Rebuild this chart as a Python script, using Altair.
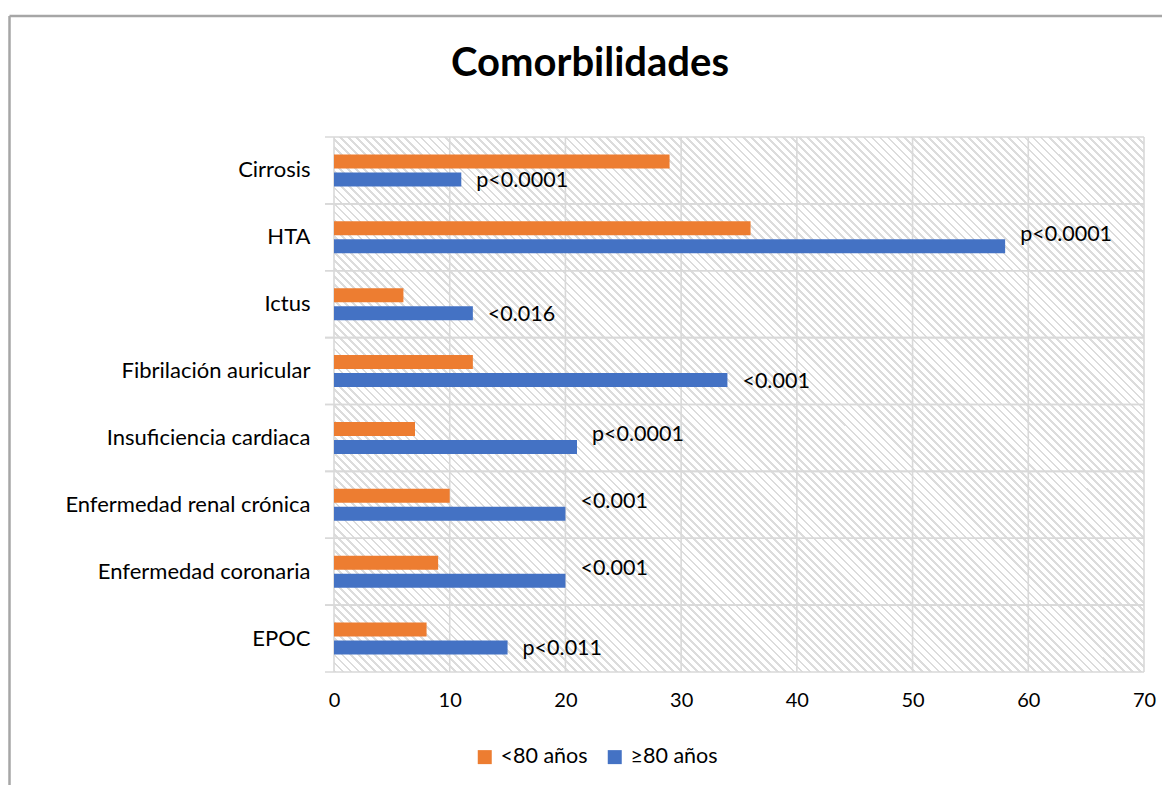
import altair as alt
import pandas as pd

# ---------------- data ----------------
categories = ["Cirrosis", "HTA", "Ictus", "Fibrilación auricular",
              "Insuficiencia cardiaca", "Enfermedad renal crónica",
              "Enfermedad coronaria", "EPOC"]
under80 = [29, 36, 6, 12, 7, 10, 9, 8]
over80 = [11, 58, 12, 34, 21, 20, 20, 15]
p_labels = ["p<0.0001", "p<0.0001", "<0.016", "<0.001", "p<0.0001",
            "<0.001", "<0.001", "p<0.011"]
label_row = ["bar", "mid", "bar", "bar", "mid", "mid", "mid", "bar"]
series = ["<80 años", "≥80 años"]
x_ticks = [0, 10, 20, 30, 40, 50, 60, 70]
title_text = "Comorbilidades"

# ---------------- styles ----------------
FONT = "Lato"
ORANGE = "#ED7D31"
BLUE = "#4472C4"
GRID = "#d9d9d9"
W, H = 810, 535
PAD_L, PAD_T = 334, 137

bars_df = pd.DataFrame({
    "cat": categories * 2,
    "s": [series[0]] * len(categories) + [series[1]] * len(categories),
    "v": under80 + over80,
})
lab_df = pd.DataFrame({"cat": categories, "v": over80, "lab": p_labels, "row": label_row})
cat_df = pd.DataFrame({"cat": categories})
tick_df = pd.DataFrame({"t": x_ticks})
title_df = pd.DataFrame({"t": [title_text]})

# hatch-like background via hard-stop linear gradient (style only)
stops = []
n = 167
per = 1.0 / n
for k in range(n):
    a = k * per
    b = a + per * 0.35
    c = (k + 1) * per
    stops += [alt.GradientStop(offset=a, color="#dcdcdc"),
              alt.GradientStop(offset=min(b, 1.0), color="#dcdcdc"),
              alt.GradientStop(offset=min(b, 1.0), color="#ffffff"),
              alt.GradientStop(offset=min(c, 1.0), color="#ffffff")]
hatch = alt.LinearGradient(gradient="linear", stops=stops,
                           x1=0, y1=1, x2=1.156, y2=0.2364)

x_scale = alt.Scale(domain=[0, 70], nice=False, zero=True)
x_axis = alt.Axis(values=x_ticks, grid=False, domain=False, ticks=False,
                  labelFlush=False, labelPadding=18, labelFontSize=20,
                  labelFont=FONT, labelColor="#000000", title=None)
y_scale = alt.Scale(domain=categories, paddingInner=0, paddingOuter=0)
y_axis = alt.Axis(grid=False, domain=False, ticks=False, labelPadding=24,
                  labelFontSize=22, labelFont=FONT, labelColor="#000000",
                  title=None, labelLimit=400)


def yenc(bp=None):
    if bp is None:
        return alt.Y("cat:N", scale=y_scale, axis=y_axis, title=None)
    return alt.Y("cat:N", scale=y_scale, axis=y_axis, title=None, bandPosition=bp)


background = alt.Chart(title_df).mark_rect(fill=hatch, strokeWidth=0).encode(
    x=alt.value(0), x2=alt.value(W), y=alt.value(0), y2=alt.value(H))

vgrid = alt.Chart(tick_df).mark_rule(color=GRID, strokeWidth=1.6).encode(
    x=alt.X("t:Q", scale=x_scale, axis=x_axis, title=None))

hgrid_top = alt.Chart(cat_df).mark_rule(color=GRID, strokeWidth=1.6).encode(
    y=yenc(0), x=alt.value(-9), x2=alt.value(W))
hgrid_bot = alt.Chart(cat_df).mark_rule(color=GRID, strokeWidth=1.6).encode(
    y=yenc(1), x=alt.value(-9), x2=alt.value(W))

bars = alt.Chart(bars_df).mark_bar().encode(
    x=alt.X("v:Q", scale=x_scale, axis=x_axis, title=None),
    y=yenc(),
    yOffset=alt.YOffset("s:N", sort=series,
                        scale=alt.Scale(domain=series, paddingInner=0.222, paddingOuter=0.972)),
    color=alt.Color("s:N", scale=alt.Scale(domain=series, range=[ORANGE, BLUE]),
                    legend=alt.Legend(orient="none", direction="horizontal",
                                      legendX=140, legendY=609, title=None,
                                      symbolType="square", symbolSize=196,
                                      symbolStrokeWidth=0, labelFontSize=21.5,
                                      labelFont=FONT, labelColor="#000000",
                                      labelOffset=5, columnPadding=16, padding=0)),
)

text_bar = alt.Chart(lab_df).transform_filter(alt.datum.row == "bar").mark_text(
    align="left", baseline="middle", dx=15, fontSize=21.5, font=FONT, color="#000000"
).encode(x=alt.X("v:Q", scale=x_scale, axis=x_axis, title=None), y=yenc(0.66), text="lab:N")

text_mid = alt.Chart(lab_df).transform_filter(alt.datum.row == "mid").mark_text(
    align="left", baseline="middle", dx=15, fontSize=21.5, font=FONT, color="#000000"
).encode(x=alt.X("v:Q", scale=x_scale, axis=x_axis, title=None), y=yenc(0.46), text="lab:N")

title = alt.Chart(title_df).mark_text(
    align="center", baseline="alphabetic", fontSize=40, fontWeight="bold",
    font=FONT, color="#000000"
).encode(text="t:N", x=alt.value(590 - PAD_L), y=alt.value(76 - PAD_T))

frame_left = alt.Chart(title_df).mark_rule(color="#a6a6a6", strokeWidth=2.5).encode(
    x=alt.value(9.5 - PAD_L), y=alt.value(16 - PAD_T), y2=alt.value(785 - PAD_T))
frame_top = alt.Chart(title_df).mark_rule(color="#a6a6a6", strokeWidth=2.5).encode(
    y=alt.value(16 - PAD_T), x=alt.value(9.5 - PAD_L), x2=alt.value(1162 - PAD_L))

chart = alt.layer(
    background, vgrid, hgrid_top, hgrid_bot, bars, text_bar, text_mid,
    title, frame_left, frame_top
).properties(
    width=W, height=H,
    padding={"left": PAD_L, "top": PAD_T, "right": 1162 - PAD_L - W, "bottom": 785 - PAD_T - H},
    autosize=alt.AutoSizeParams(type="none"),
    background="#ffffff",
).configure_view(stroke=None)

chart.save("out.html", embed_options={"renderer": "svg", "actions": False})
